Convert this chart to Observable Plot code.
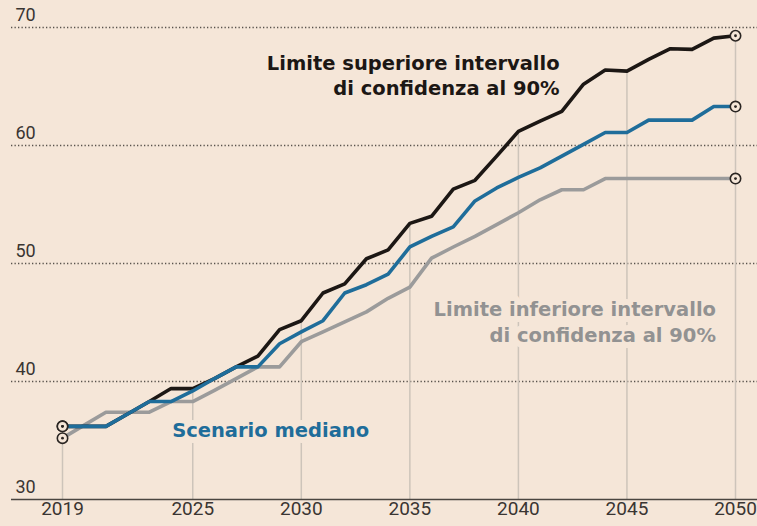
<!DOCTYPE html>
<html><head><meta charset="utf-8">
<script src="https://cdn.jsdelivr.net/npm/d3@7"></script>
<script src="https://cdn.jsdelivr.net/npm/@observablehq/plot@0.6"></script>
<style>html,body{margin:0;padding:0;background:#f5e6d8;overflow:hidden;}</style>
</head><body><div id="chart"></div>
<script>
const years = [2019,2020,2021,2022,2023,2024,2025,2026,2027,2028,2029,2030,2031,2032,2033,2034,
  2035,2036,2037,2038,2039,2040,2041,2042,2043,2044,2045,2046,2047,2048,2049,2050];
const upper = [36.2,36.2,36.2,37.25,38.3,39.4,39.4,40.25,41.24,42.15,44.4,45.15,47.5,48.27,50.4,51.15,
  53.4,54.0,56.3,57.05,59.1,61.2,62.06,62.9,65.2,66.4,66.3,67.3,68.2,68.15,69.1,69.3];
const median = [36.2,36.2,36.2,37.25,38.3,38.3,39.2,40.25,41.24,41.24,43.2,44.2,45.15,47.5,48.2,49.1,
  51.4,52.3,53.1,55.3,56.4,57.3,58.1,59.1,60.1,61.1,61.1,62.15,62.15,62.15,63.3,63.3];
const lower = [35.2,36.3,37.4,37.4,37.4,38.3,38.3,39.25,40.25,41.24,41.24,43.37,44.2,45.06,45.9,47.05,
  48.0,50.45,51.4,52.3,53.3,54.3,55.4,56.25,56.25,57.2,57.2,57.2,57.2,57.2,57.2,57.2];
const xTicks = [2019,2025,2030,2035,2040,2045,2050];
const yTicks = [30,40,50,60,70];
const yGrid = [40,50,60,70];
const labelUpper = "Limite superiore intervallo\ndi confidenza al 90%";
const labelLower = "Limite inferiore intervallo\ndi confidenza al 90%";
const labelMedian = "Scenario mediano";

const BG = "#f5e6d8";
const C_UP = "#1c1714", C_MED = "#1f6d9a", C_LOW = "#9b9b9b";
const LABEL_FONT = "'DejaVu Sans', sans-serif";

const mk = (vals) => years.map((y, i) => ({year: y, value: vals[i]}));
const dUp = mk(upper), dMed = mk(median), dLow = mk(lower);
const upMap = new Map(dUp.map(d => [d.year, d.value]));
const ends = [dUp[0], dMed[0], dLow[0], dUp[dUp.length-1], dMed[dMed.length-1], dLow[dLow.length-1]];

const chart = Plot.plot({
  width: 757, height: 526,
  marginLeft: 62, marginRight: 22, marginTop: 27, marginBottom: 27,
  x: {domain: [2019, 2050], axis: null},
  y: {domain: [30, 70], axis: null},
  style: {background: BG, fontFamily: "Roboto, sans-serif", overflow: "visible"},
  marks: [
    Plot.ruleY(yGrid, {y: d => d, stroke: "#58524c", strokeWidth: 1.3, strokeDasharray: "1.3,2.2", insetLeft: -51, insetRight: -22}),
    Plot.ruleX(xTicks, {x: d => d, y1: 30, y2: d => upMap.get(d), stroke: "#cdc4ba", strokeWidth: 1.5}),
    Plot.ruleY([30], {y: d => d, stroke: "#4a4540", strokeWidth: 1.6, insetLeft: -51, insetRight: -22}),
    Plot.line(dLow, {x: "year", y: "value", stroke: C_LOW, strokeWidth: 3.6, strokeLinejoin: "round"}),
    Plot.line(dUp, {x: "year", y: "value", stroke: C_UP, strokeWidth: 3.6, strokeLinejoin: "round"}),
    Plot.line(dMed, {x: "year", y: "value", stroke: C_MED, strokeWidth: 3.6, strokeLinejoin: "round"}),
    Plot.dot(ends, {x: "year", y: "value", r: 5.2, fill: BG, stroke: "#2a2522", strokeWidth: 1.6}),
    Plot.dot(ends, {x: "year", y: "value", r: 1.4, fill: "#2a2522"}),
    Plot.text(yTicks, {y: d => d, text: d => String(d), frameAnchor: "left", dx: -47, dy: -12, textAnchor: "start", fontSize: 18, fill: "#3a3532"}),
    Plot.text(xTicks, {x: d => d, text: d => String(d), frameAnchor: "bottom", dy: 15, fontSize: 19, fill: "#3a3532"}),
    Plot.text([labelUpper], {x: 2041.9, y: 68.0, text: d => d, textAnchor: "end", lineAnchor: "top", lineHeight: 1.33, fontSize: 19.5, fontWeight: 700, fontFamily: LABEL_FONT, fill: C_UP, stroke: BG, strokeWidth: 10}),
    Plot.text([labelLower], {x: 2049.1, y: 47.1, text: d => d, textAnchor: "end", lineAnchor: "top", lineHeight: 1.33, fontSize: 19.5, fontWeight: 700, fontFamily: LABEL_FONT, fill: "#929292", stroke: BG, strokeWidth: 12}),
    Plot.text([labelMedian], {x: 2024.05, y: 36.46, text: d => d, textAnchor: "start", lineAnchor: "top", fontSize: 19.5, fontWeight: 700, fontFamily: LABEL_FONT, fill: C_MED, stroke: BG, strokeWidth: 12})
  ]
});
document.getElementById("chart").appendChild(chart);
</script>
</body></html>
